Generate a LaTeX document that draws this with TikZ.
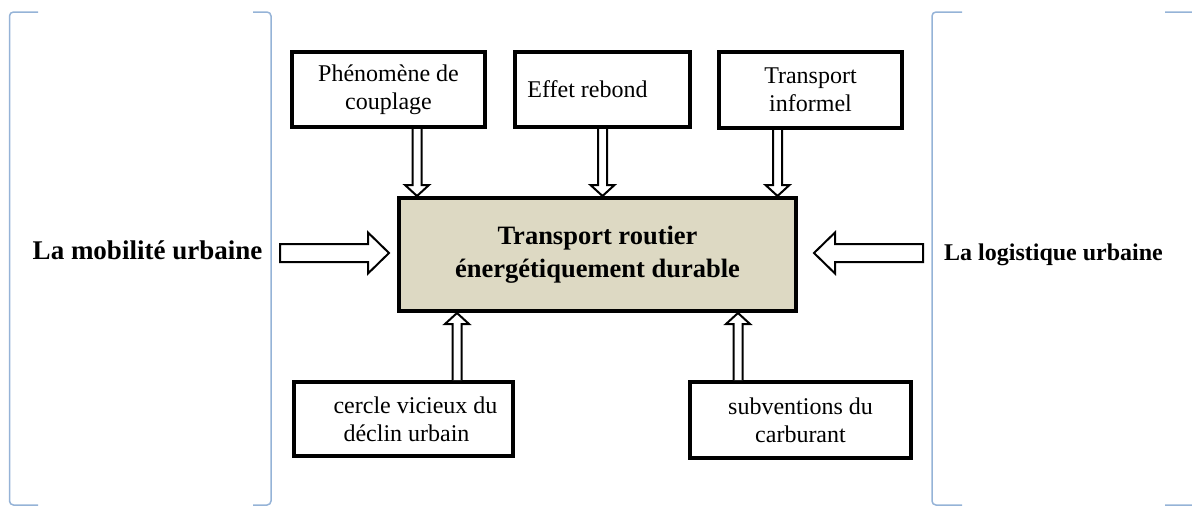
\documentclass[tikz,border=0pt]{standalone}
\usepackage{fontspec}
\setmainfont{Liberation Serif}
\usetikzlibrary{calc}
\definecolor{brk}{RGB}{149,179,215}
\definecolor{tanfill}{RGB}{221,217,195}
\tikzset{
  box/.style={draw, line width=4pt, fill=white, inner sep=0pt, align=center,
    font=\fontsize{24}{28}\selectfont},
  mainbox/.style={draw, line width=4pt, fill=tanfill, inner sep=0pt, align=center,
    font=\bfseries\fontsize{26.5}{33}\selectfont},
  lab/.style={inner sep=0pt, font=\bfseries\fontsize{27}{32}\selectfont},
  labsmall/.style={inner sep=0pt, font=\bfseries\fontsize{24}{28}\selectfont},
  blk/.style={draw, line width=2pt, fill=white, line join=miter},
  brack/.style={draw=brk, line width=1.5pt, rounded corners=4pt},
}
% vertical block arrow from #1 (tail) to #2 (tip)
\newcommand\vblk[2]{\draw[blk] let \p1=(#1), \p2=(#2), \n1={sign(\y2-\y1)} in
  (\x1-4.5,\y1) -- (\x1-4.5,\y2-\n1*11) -- (\x1-12,\y2-\n1*11) -- (\x1,\y2)
  -- (\x1+12,\y2-\n1*11) -- (\x1+4.5,\y2-\n1*11) -- (\x1+4.5,\y1);}
% horizontal block arrow from #1 (tail) to #2 (tip)
\newcommand\hblk[2]{\draw[blk] let \p1=(#1), \p2=(#2), \n1={sign(\x2-\x1)} in
  (\x1,\y1-9) -- (\x2-\n1*21,\y1-9) -- (\x2-\n1*21,\y1-20.5) -- (\x2,\y1)
  -- (\x2-\n1*21,\y1+20.5) -- (\x2-\n1*21,\y1+9) -- (\x1,\y1+9) -- cycle;}
\begin{document}
\begin{tikzpicture}[x=1pt,y=-1pt]
\useasboundingbox (0,0) rectangle (1192,507);
\clip (0,0) rectangle (1192,507);
% brackets
\draw[brack] (38,12) -- (9.5,12) -- (9.5,505) -- (38,505);
\draw[brack] (253,12) -- (271,12) -- (271,505) -- (253,505);
\draw[brack] (962,12) -- (932,12) -- (932,505) -- (962,505);
\draw[brack] (1165,12) -- (1197,12) -- (1197,505) -- (1165,505);
% boxes
\node[box, minimum width=193pt, minimum height=75pt] (b1) at (388.5,89.5) {Phénomène de\\couplage};
\node[box, minimum width=175pt, minimum height=75pt] (b2) at (602.5,89.5) {Effet rebond\hspace*{30pt}};
\node[box, minimum width=183pt, minimum height=76pt] (b3) at (810.5,90) {Transport\\informel};
\node[mainbox, minimum width=397pt, minimum height=113pt] (main) at (597.5,254.5) {Transport routier\\énergétiquement durable};
\node[box, align=left, minimum width=219pt, minimum height=74pt] (b4) at (403.5,419) {\hspace*{24pt}cercle vicieux du\\\hspace*{34pt}déclin urbain};
\node[box, minimum width=221pt, minimum height=76pt] (b5) at (800.5,420) {subventions du\\carburant};
% side labels
\node[lab] (lm) at (147.5,250) {La mobilité urbaine};
\node[labsmall] (ll) at (1053.5,255) {La logistique urbaine};
% arrow positions
\coordinate (c1) at (417,0);
\coordinate (c2) at (602.5,0);
\coordinate (c3) at (777.5,0);
\coordinate (c4) at (457,0);
\coordinate (c5) at (738,0);
\coordinate (lt) at (280,253);
\coordinate (lh) at (389,253);
\coordinate (rt) at (923,253);
\coordinate (rh) at (814,253);
% arrows
\vblk{b1.south -| c1}{main.north -| c1}
\vblk{b2.south -| c2}{main.north -| c2}
\vblk{b3.south -| c3}{main.north -| c3}
\vblk{b4.north -| c4}{main.south -| c4}
\vblk{b5.north -| c5}{main.south -| c5}
\hblk{lt}{lh}
\hblk{rt}{rh}
\end{tikzpicture}
\end{document}
